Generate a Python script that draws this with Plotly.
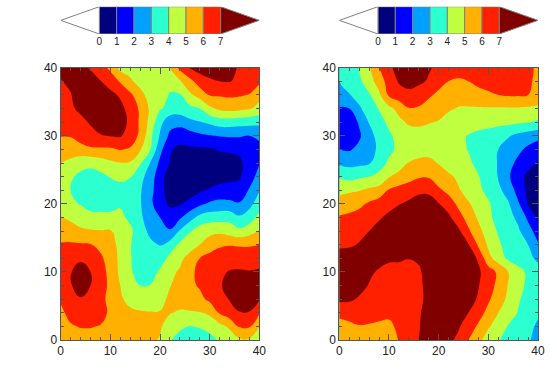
import plotly.graph_objects as go

W, H = 557, 389
grid_x = list(range(0, 41, 2))
grid_y = list(range(0, 41, 2))

# rows listed from y=0 up to y=40, columns x=0..40
left_z = [
    [5.3,5.5,5.6,5.6,5.5,5.4,5.3,5.2,5.15,5.1,4.95,4.1,3.6,3.3,3.4,3.7,4.1,4.5,4.85,4.85,4.7],
    [5.8,5.9,6.05,6.05,5.95,5.6,5.4,5.2,5.15,5.1,5.1,4.6,4.2,3.95,4.1,4.3,4.7,5.15,6.1,6.1,5.0],
    [5.8,6.3,6.6,6.6,6.4,5.8,5.4,5.2,5.1,5.05,5.05,5.05,4.9,4.9,4.95,5.2,6.1,6.6,6.95,6.95,6.1],
    [6.1,6.6,6.95,6.75,6.4,5.6,5.15,4.7,4.5,4.5,4.7,5.2,5.35,5.55,5.75,6.2,6.6,7.05,7.5,7.5,7.1],
    [6.2,6.95,7.3,7.0,6.4,5.8,5.0,4.4,4.0,4.05,4.3,4.95,5.4,5.8,6.1,6.4,6.9,7.3,7.7,7.7,7.7],
    [6.3,6.95,7.4,7.0,6.4,5.7,4.8,4.2,3.4,3.4,4.2,4.8,5.1,5.7,6.3,6.6,6.85,7.05,7.1,7.05,7.1],
    [6.5,6.8,6.85,6.6,6.2,5.5,4.8,4.1,3.3,3.1,3.4,4.3,4.8,5.3,6.0,6.3,6.5,6.6,6.6,6.6,6.7],
    [6.1,6.15,6.1,6.05,5.7,5.4,4.7,4.05,3.6,3.2,2.95,3.4,4.2,4.6,5.0,5.55,5.85,5.95,5.9,5.9,6.0],
    [5.5,5.35,5.15,5.1,5.05,5.05,4.8,4.2,3.4,2.8,2.25,2.1,3.1,3.9,4.5,4.7,4.8,4.55,4.25,4.6,5.05],
    [5.05,4.85,4.6,4.25,4.3,4.3,4.2,3.8,3.15,2.6,2.0,1.4,1.85,2.6,3.3,3.55,3.6,3.65,3.15,3.5,4.3],
    [4.5,4.15,3.95,3.7,3.6,3.6,3.9,3.5,3.1,2.25,1.4,0.85,0.9,1.3,1.8,2.15,2.3,2.25,2.1,2.7,3.5],
    [4.6,4.0,3.5,3.3,3.3,3.4,3.6,3.6,3.1,2.4,1.3,0.6,0.4,0.5,0.85,1.1,1.35,1.35,1.3,2.1,2.95],
    [4.6,4.15,3.75,3.55,3.75,4.05,4.25,4.05,3.3,2.6,1.35,0.6,0.3,0.25,0.3,0.45,0.6,0.75,0.9,1.5,2.4],
    [5.0,4.7,4.4,4.3,4.5,4.8,4.95,4.9,4.1,3.0,1.8,0.95,0.55,0.4,0.45,0.55,0.7,0.75,0.85,1.3,1.95],
    [5.4,5.6,5.6,5.85,5.85,5.85,6.05,5.9,5.1,4.05,2.3,1.1,0.75,0.85,0.85,0.9,1.05,1.1,1.15,1.4,1.85],
    [6.05,6.05,6.5,6.7,6.95,7.05,7.1,6.55,5.8,4.3,2.9,1.8,1.5,1.55,1.8,1.95,2.05,2.1,2.1,2.0,2.1],
    [6.35,6.4,6.75,7.1,7.4,7.6,7.5,6.75,5.85,4.7,3.3,2.35,2.3,2.75,2.95,3.2,3.5,3.5,3.4,3.35,3.3],
    [6.65,6.85,7.2,7.5,7.6,7.6,7.3,6.6,5.85,4.85,4.1,3.7,3.6,3.75,4.0,4.8,5.2,5.35,5.25,5.1,4.7],
    [6.85,6.95,7.5,7.7,7.7,7.3,6.85,6.2,5.4,4.5,4.3,3.95,3.9,4.8,5.4,6.05,6.1,6.15,6.1,5.95,5.3],
    [6.95,7.2,7.5,7.5,7.05,6.5,5.9,5.2,4.55,4.4,4.3,4.2,4.9,5.7,6.5,6.85,7.0,7.05,6.8,6.6,6.2],
    [7.2,7.5,7.3,6.9,6.4,5.8,4.7,4.5,4.4,4.4,4.5,5.1,6.25,7.05,7.4,7.5,7.5,7.3,6.9,6.6,6.4],
]
right_z = [
    [5.05,5.3,5.4,5.5,5.5,5.55,6.05,6.6,7.0,7.3,7.4,7.2,6.8,6.0,5.25,4.6,4.05,3.7,3.4,3.1,2.75],
    [5.6,5.8,5.95,5.9,5.8,5.7,6.3,6.6,6.95,7.35,7.5,7.4,7.1,6.5,5.85,5.1,4.6,3.95,3.6,3.25,2.85],
    [6.3,6.35,6.45,6.4,6.35,6.3,6.4,6.55,6.9,7.35,7.6,7.7,7.4,7.0,6.4,5.7,5.0,4.45,3.95,3.55,3.15],
    [7.2,7.15,6.9,6.65,6.5,6.4,6.4,6.45,6.75,7.3,7.65,7.85,7.7,7.35,6.9,6.15,5.45,4.8,4.1,3.7,3.25],
    [7.7,7.6,7.3,6.95,6.7,6.6,6.55,6.55,6.8,7.3,7.7,7.9,7.9,7.5,7.05,6.4,5.75,4.95,4.3,3.8,3.3],
    [7.6,7.5,7.3,7.15,6.9,6.8,6.75,6.75,6.9,7.3,7.7,7.9,7.85,7.6,7.15,6.5,5.8,5.0,4.35,3.8,3.3],
    [7.4,7.4,7.6,7.5,7.3,7.1,7.1,7.02,7.1,7.6,7.85,7.9,7.7,7.4,6.9,5.3,4.55,3.8,3.5,3.2,2.85],
    [6.85,6.9,7.05,7.4,7.7,7.8,7.9,7.9,7.95,8.0,8.0,7.8,7.45,7.05,5.85,4.85,4.15,3.65,3.35,3.0,2.1],
    [6.5,6.6,6.8,7.0,7.3,7.6,7.8,7.95,8.0,8.0,7.9,7.5,7.2,6.15,5.3,4.5,3.9,3.5,3.15,2.4,1.55],
    [6.1,6.2,6.4,6.6,6.9,7.2,7.5,7.7,7.8,7.8,7.6,7.2,6.4,5.6,4.85,4.2,3.7,3.3,2.8,1.8,0.85],
    [5.4,5.6,5.75,6.15,6.45,6.7,6.95,7.2,7.4,7.3,7.05,6.55,5.75,5.1,4.6,4.1,3.6,3.1,2.15,0.95,0.4],
    [4.75,4.85,4.95,5.2,5.4,6.1,6.35,6.5,6.8,6.85,6.2,5.7,5.1,4.6,4.15,3.8,3.2,2.65,1.6,0.8,0.2],
    [3.9,3.65,3.85,4.0,4.25,4.95,5.3,5.65,5.9,5.9,5.35,5.2,4.8,4.5,4.05,3.65,2.95,2.15,1.45,0.7,0.3],
    [2.85,2.7,2.75,2.9,3.6,4.15,4.55,5.05,5.3,5.35,4.95,4.5,4.2,4.2,3.7,3.35,2.95,2.3,1.8,1.4,0.9],
    [2.0,1.9,2.25,2.8,3.1,3.8,4.2,4.35,4.45,4.5,4.5,4.4,4.3,3.95,3.45,3.2,3.0,2.5,2.2,1.8,1.45],
    [1.3,1.1,1.85,2.7,3.3,3.85,4.3,4.5,4.6,4.6,4.55,4.4,4.2,3.95,3.75,3.6,3.35,3.1,2.75,2.5,2.3],
    [1.4,1.45,2.1,3.05,3.65,4.2,4.75,5.15,5.2,5.05,4.95,4.7,4.6,4.5,4.4,4.35,4.3,4.25,4.15,4.05,3.85],
    [1.95,2.0,2.85,3.5,4.05,4.75,5.3,5.95,5.9,5.6,5.3,5.1,4.95,4.9,4.9,4.9,4.9,4.9,4.9,4.85,4.8],
    [2.4,2.95,3.4,3.9,4.8,6.15,6.55,6.7,6.5,6.15,5.8,5.4,5.35,5.55,5.75,5.9,6.0,6.1,6.1,6.0,5.6],
    [3.0,3.35,3.8,4.5,5.5,6.4,7.1,7.4,7.2,6.9,6.35,6.0,5.85,6.0,6.2,6.25,6.4,6.4,6.3,6.3,5.6],
    [3.0,3.5,4.05,4.9,6.0,6.8,7.4,7.6,7.5,7.1,6.8,6.6,6.5,6.5,6.55,6.6,6.6,6.6,6.5,6.4,5.7],
]

levels = [0, 1, 2, 3, 4, 5, 6, 7]
band_colors = ["#00007f", "#0000ff", "#00a0ff", "#2cffd0", "#c0ff40", "#ffb000", "#ff2000"]
under_color = "#ffffff"
over_color = "#800000"
axis_ticks = [0, 10, 20, 30, 40]

zlo, zhi = -1, 8
all_colors = [under_color] + band_colors + [over_color]
scale = []
for i, c in enumerate(all_colors):
    scale += [[i / len(all_colors), c], [(i + 1) / len(all_colors), c]]

panels = [(60.7, 259.3, left_z), (339.3, 538.0, right_z)]
top, bottom = 67.7, 340.0
bar_top, bar_bottom = 6.7, 34.0
tip = 2.23
frame = "#555555"
font = dict(family="Liberation Sans, Arial, sans-serif", color="#222222")

fig = go.Figure()
layout = {}
for n, (x0, x1, z) in enumerate(panels):
    a = 2 * n + 1
    b = 2 * n + 2
    xa = "x" if a == 1 else f"x{a}"
    ya = "y" if a == 1 else f"y{a}"
    xb, yb = f"x{b}", f"y{b}"
    fig.add_trace(go.Contour(
        x=grid_x, y=grid_y, z=z, xaxis=xa, yaxis=ya, zmin=zlo, zmax=zhi,
        colorscale=scale, showscale=False, hoverinfo="skip",
        contours=dict(start=levels[0], end=levels[-1], size=1, coloring="fill", showlines=False),
        line=dict(width=0, smoothing=1.3),
    ))
    ax = dict(
        range=[0, 40], tickvals=axis_ticks, ticks="inside", ticklen=6, tickwidth=1, tickcolor=frame,
        linecolor=frame, linewidth=1, mirror="allticks", showgrid=False, zeroline=False, automargin=False,
        tickfont=dict(size=12, **font),
        minor=dict(dtick=2, ticks="inside", ticklen=3, tickcolor=frame, tickwidth=1, showgrid=False),
    )
    layout["xaxis" if a == 1 else f"xaxis{a}"] = dict(ax, domain=[x0 / W, x1 / W], anchor=ya)
    layout["yaxis" if a == 1 else f"yaxis{a}"] = dict(ax, domain=[1 - bottom / H, 1 - top / H], anchor=xa)

    # colour key with arrow ends
    fig.add_trace(go.Bar(
        x=[l + 0.5 for l in levels[:-1]], y=[1] * len(band_colors), width=1,
        marker=dict(color=band_colors, line=dict(color="#808080", width=1)),
        xaxis=xb, yaxis=yb, hoverinfo="skip", showlegend=False,
    ))
    for base, end, col in ((levels[0], levels[0] - tip, under_color), (levels[-1], levels[-1] + tip, over_color)):
        fig.add_trace(go.Scatter(
            x=[base, end, base, base], y=[0, 0.5, 1, 0], mode="lines", fill="toself", fillcolor=col,
            line=dict(color="#808080", width=1), xaxis=xb, yaxis=yb, hoverinfo="skip", showlegend=False,
        ))
    layout[f"xaxis{b}"] = dict(
        domain=[x0 / W, x1 / W], anchor=yb, range=[levels[0] - tip, levels[-1] + tip],
        tickvals=levels, ticktext=[str(l) for l in levels], ticks="", showline=False, automargin=False,
        showgrid=False, zeroline=False, tickfont=dict(size=10, **font),
    )
    layout[f"yaxis{b}"] = dict(
        domain=[1 - bar_bottom / H, 1 - bar_top / H], anchor=xb, range=[0, 1], automargin=False,
        visible=False, showgrid=False, zeroline=False,
    )

fig.update_layout(
    width=W, height=H, margin=dict(l=0, r=0, t=0, b=0, autoexpand=False), showlegend=False,
    paper_bgcolor="white", plot_bgcolor="white", barmode="overlay", **layout,
)
fig.write_html("out.html", config={"displayModeBar": False}, post_script="document.body.style.margin='0';")
